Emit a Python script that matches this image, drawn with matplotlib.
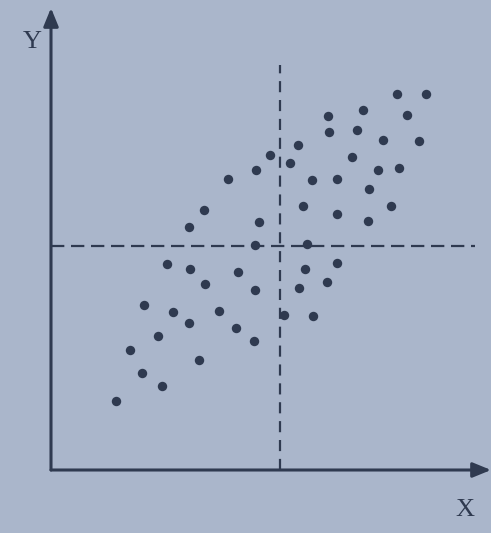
import numpy as np
import matplotlib
matplotlib.use("Agg")
import matplotlib.pyplot as plt

# scatter points (x, y)
x = [34.6, 37.5, 27.7, 31.2, 35.6, 27.8, 30.6, 33.2, 36.8, 24.7,
     21.9, 23.9, 20.5, 30.1, 32.7, 34.8, 17.7, 26.1, 28.6, 31.8,
     15.3, 25.2, 28.6, 34.0, 31.7, 13.8, 20.8, 20.4, 25.6, 11.6,
     13.9, 18.7, 25.4, 28.6, 15.4, 20.4, 24.8, 27.6, 9.3, 12.2,
     16.8, 23.3, 26.2, 13.8, 18.5, 10.7, 20.3, 7.9, 14.8, 9.1,
     11.1, 6.5]
y = [37.6, 37.6, 35.4, 36.0, 35.5, 33.8, 34.0, 33.0, 32.9, 32.5,
     31.5, 30.7, 30.0, 31.3, 30.0, 30.2, 29.1, 29.0, 29.1, 28.1,
     26.0, 26.4, 25.6, 26.4, 24.9, 24.3, 24.8, 22.5, 22.6, 20.6,
     20.1, 19.8, 20.1, 20.7, 18.6, 18.0, 18.2, 18.8, 16.5, 15.8,
     15.9, 15.5, 15.4, 14.7, 14.2, 13.4, 12.9, 12.0, 11.0, 9.7,
     8.4, 6.9]

x_mean = 22.9
y_mean = 22.4

bg = "#aab6cb"
ink = "#2f3a50"

fig = plt.figure(figsize=(4.91, 5.33), dpi=100, facecolor=bg)
ax = fig.add_axes([0, 0, 1, 1])
ax.set_facecolor(bg)
ax.set_xlim(-5.1, 44.0)
ax.set_ylim(-6.3, 47.0)
ax.axis("off")

# mean lines
ax.plot([0, 42.4], [y_mean, y_mean], ls=(0, (6, 3)), color=ink, lw=1.6)
ax.plot([x_mean, x_mean], [0, 40.5], ls=(0, (5, 3.5)), color=ink, lw=1.6)

# axes with arrows
arrow = dict(arrowstyle="-|>,head_length=1.1,head_width=0.45", color=ink,
             lw=2.2, shrinkA=0, shrinkB=0)
ax.annotate("", xy=(0, 46.2), xytext=(0, 0), arrowprops=arrow)
ax.annotate("", xy=(44.0, 0), xytext=(0, 0), arrowprops=arrow)

ax.scatter(x, y, s=46, color=ink, zorder=3, linewidths=0)

ax.text(-1.9, 42.8, "Y", family="Liberation Serif", fontsize=19,
        color=ink, ha="center", va="center")
ax.text(41.4, -4.0, "X", family="Liberation Serif", fontsize=19,
        color=ink, ha="center", va="center")

fig.savefig("out.png", dpi=100, facecolor=bg)
